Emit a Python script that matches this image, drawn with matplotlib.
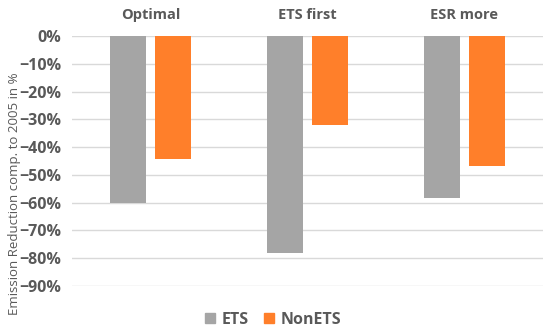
import matplotlib
matplotlib.use("Agg")
import matplotlib.pyplot as plt
import numpy as np
from matplotlib.ticker import FuncFormatter
from matplotlib.patches import Patch

categories = ["Optimal", "ETS first", "ESR more"]
ets = [-60.0, -78.0, -58.3]
nonets = [-44.1, -32.0, -46.8]
series_names = ["ETS", "NonETS"]
yticks = [0, -10, -20, -30, -40, -50, -60, -70, -80, -90]

plt.rcParams['font.family'] = ['Open Sans', 'DejaVu Sans']
txt = '#595959'

fig = plt.figure(figsize=(5.5, 3.32), dpi=100)
ax = fig.add_axes([72/550, 1-286/332, (543-72)/550, (286-36)/332])

x = np.arange(len(categories))
w = 0.225
off = 0.1425
ax.bar(x - off, ets, width=w, color='#A5A5A5', zorder=3)
ax.bar(x + off, nonets, width=w, color='#FF7F2A', zorder=3)

ax.set_xlim(-0.5, 2.5)
ax.set_ylim(-90, 0)
ax.set_yticks(yticks)
ax.yaxis.set_major_formatter(FuncFormatter(lambda v, p: f"{int(round(v))}%".replace('-', '\u2212')))
ax.grid(axis='y', color='#D9D9D9', linewidth=1, zorder=0)
ax.set_axisbelow(True)
for s in ax.spines.values():
    s.set_visible(False)
ax.tick_params(axis='y', length=0, pad=8, labelsize=11.5, labelcolor=txt)
for lab in ax.get_yticklabels():
    lab.set_fontweight('bold')
ax.xaxis.tick_top()
ax.set_xticks(x)
ax.set_xticklabels(categories, fontsize=10.5, fontweight='bold', color=txt)
ax.tick_params(axis='x', length=0, pad=10)

fig.text(15/550, 1 - 194/332, "Emission Reduction comp. to 2005 in %", rotation=90,
         ha='center', va='center', fontsize=9.5, color=txt)

handles = [Patch(color='#A5A5A5'), Patch(color='#FF7F2A')]
leg = fig.legend(handles, series_names, loc='center', bbox_to_anchor=(273/550, 1-320/332),
                 ncol=2, frameon=False, handlelength=0.6, handleheight=0.6,
                 handletextpad=0.4, columnspacing=1.0, prop={'weight': 'bold', 'size': 11.5})
for t in leg.get_texts():
    t.set_color(txt)

fig.savefig("out.png", dpi=100)
